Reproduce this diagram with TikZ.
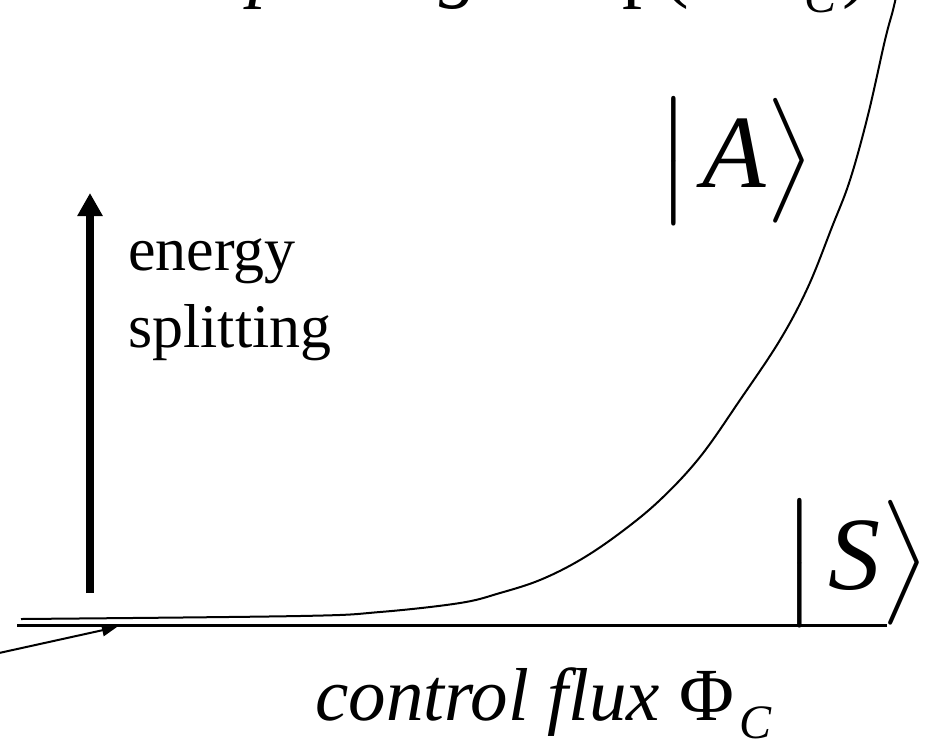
\documentclass[tikz,border=0pt]{standalone}
\usepackage{amsmath}
\usepackage{graphicx}
\usepackage{fontspec}
\setmainfont{Liberation Serif}
\newfontfamily\relfont{DejaVu Sans}
\usetikzlibrary{arrows.meta}

\newcommand{\bigket}[1]{\scalebox{10.4}{$\left|\vrule height 8.7pt depth 3.7pt width 0pt\mkern2mu\textit{#1}\right\rangle$}}

\tikzset{
  ket/.style={inner sep=0pt, anchor=base west},
  label/.style={inner sep=0pt, anchor=base west},
  axisline/.style={line width=3pt},
  level/.style={line width=2pt},
}

\begin{document}
\begin{tikzpicture}[x=1pt, y=-1pt]
    \useasboundingbox (0,0) rectangle (926,740);
    \clip (0,0) rectangle (926,740);

    \coordinate (O) at (17,625);
    \coordinate (E) at (887,625);
    \coordinate (Lo) at (90,593);
    \coordinate (Hi) at (90,193);
    \coordinate (P) at (-10,655);
    \coordinate (Q) at (117,627);

    % formula at the top, cut by the page edge
    \node[label, font=\fontsize{80}{90}\selectfont] (formula) at (217,-8)
        {\textit{splitting}\kern5pt{\relfont ∝}\kern5pt exp(−Φ\kern12pt\raisebox{-20pt}{\fontsize{48}{50}\selectfont\textit{C}}\kern6pt)};

    \draw[axisline] (O) -- (E);
    \draw[level] plot[smooth, tension=0.6] coordinates {
        (21,619) (300,616) (380,612) (460,603) (500,593) (540,580) (580,560)
        (620,533) (660,500) (700,457) (740,400) (780,340) (808,287) (832,227)
        (850,180) (868,115) (885,40) (893,10) (898,-12)};

    \draw[line width=8pt, -{Triangle[length=23pt, width=24pt]}] (Lo) -- (Hi);
    \draw[line width=2pt, -{Triangle[length=15pt, width=12pt]}] (P) -- (Q);

    \node[label, align=left, font=\fontsize{62}{77}\selectfont] (split) at (128,347)
        {energy\\splitting};

    \node[ket] (A) at (656,187) {\bigket{A}};
    \node[ket] (S) at (782,589) {\bigket{S}};

    \node[label, font=\fontsize{75}{85}\selectfont] (flux) at (315,720)
        {\textit{control flux} Φ\hspace{6pt}\raisebox{-18pt}{\fontsize{48}{50}\selectfont\textit{C}}};
\end{tikzpicture}
\end{document}
